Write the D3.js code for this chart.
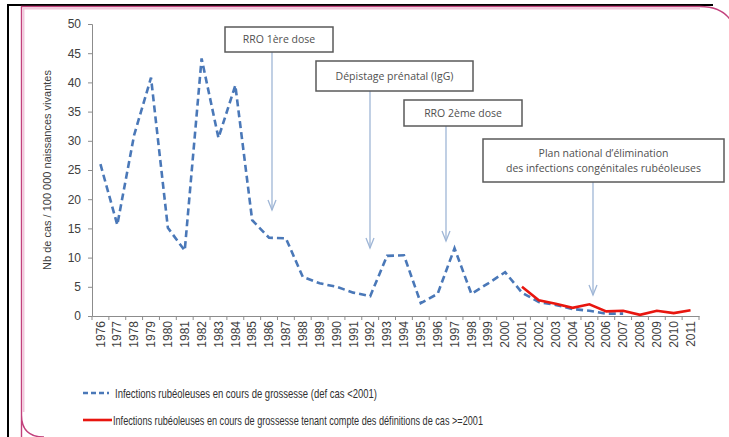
<!DOCTYPE html>
<html>
<head>
<meta charset="utf-8">
<script src="https://cdn.jsdelivr.net/npm/d3@7"></script>
<style>
  html, body { margin: 0; padding: 0; background: #fff; }
  svg { display: block; }
  .tick text { fill: #404040; }
</style>
</head>
<body>
<svg id="chart" width="729" height="437"></svg>
<script>
const years = d3.range(1976, 2012).map(String);

// def cas < 2001 (dashed)
const dashedYears = years.filter((y) => +y <= 2007);
const dashedValues = [26, 15.6, 31, 40.8, 15.1, 11.2, 44.1, 30.5, 39.5, 16.4, 13.4, 13.3, 6.7, 5.6, 5.0, 4.0,
  3.4, 10.3, 10.4, 2.2, 3.8, 11.6, 3.8, 5.6, 7.5, 4.0, 2.4, 1.9, 1.2, 0.9, 0.4, 0.4];

// définitions de cas >= 2001 (red)
const redYears = years.filter((y) => +y >= 2001);
const redValues = [5.0, 2.7, 2.1, 1.4, 2.0, 0.8, 0.9, 0.2, 0.9, 0.5, 1.0];

const yTicks = d3.range(0, 51, 5);

const annotations = [
  { lines: ['RRO 1ère dose'], box: [225, 27, 108, 25], arrowX: 272, tipY: 210 },
  { lines: ['Dépistage prénatal (IgG)'], box: [316, 61, 157, 30], arrowX: 370, tipY: 248 },
  { lines: ['RRO 2ème dose'], box: [404, 100, 118, 26], arrowX: 446, tipY: 241 },
  { lines: ['Plan national d\u2019élimination', 'des infections congénitales rubéoleuses'], box: [483, 139, 241, 43], arrowX: 593, tipY: 295 },
];

const legendItems = [
  { label: 'Infections rubéoleuses en cours de grossesse (def cas <2001)', color: '#4a78b8', dash: '5,3', y: 393, textLen: 262 },
  { label: 'Infections rubéoleuses en cours de grossesse tenant compte des définitions de cas >=2001', color: '#e8160f', dash: null, y: 420, textLen: 370 },
];

const svg = d3.select('#chart');

// frame
svg.append('path')
  .attr('d', 'M8,5 V437 M7,5 H713')
  .attr('stroke', '#000').attr('stroke-width', 2).attr('fill', 'none');
svg.append('path')
  .attr('d', 'M21.5,460 V415 Q21.5,437 44,437 M21.5,415 V6.5 H700 Q728,6.5 735,30')
  .attr('stroke', '#c2417c').attr('stroke-width', 1.4).attr('fill', 'none');
svg.append('path')
  .attr('d', 'M23.5,412 V8.5 H700')
  .attr('stroke', '#f2c8dc').attr('stroke-width', 2).attr('fill', 'none');

const x = d3.scaleBand().domain(years).range([92, 699]);
const cx = (year) => x(year) + x.bandwidth() / 2;
const y = d3.scaleLinear().domain([0, 50]).range([316, 24]);

// y axis
const yAxis = svg.append('g')
  .attr('transform', 'translate(92,0)')
  .call(d3.axisLeft(y).tickValues(yTicks).tickSize(4).tickPadding(7));
yAxis.selectAll('text').attr('font-family', 'Liberation Sans, Arial, sans-serif').attr('font-size', 12);
yAxis.select('.domain').attr('stroke', '#8c8c8c');
yAxis.selectAll('.tick line').attr('stroke', '#8c8c8c');

// x axis
const xAxis = svg.append('g')
  .attr('transform', 'translate(0,316)')
  .call(d3.axisBottom(x).tickSize(0).tickPadding(6));
xAxis.select('.domain').attr('stroke', '#8c8c8c');
xAxis.selectAll('text')
  .attr('font-family', 'Liberation Sans, Arial, sans-serif').attr('font-size', 12)
  .attr('transform', 'rotate(-90)')
  .attr('text-anchor', 'end')
  .attr('dy', '0.35em')
  .attr('x', -5).attr('y', 0);
xAxis.selectAll('.boundary')
  .data(years.map((yr) => x(yr)).concat([x.range()[1]]))
  .join('line')
  .attr('class', 'boundary')
  .attr('x1', (d) => d).attr('x2', (d) => d)
  .attr('y1', 0).attr('y2', 4)
  .attr('stroke', '#8c8c8c');

// y axis label
svg.append('text')
  .attr('transform', 'translate(51,170) rotate(-90)')
  .attr('text-anchor', 'middle')
  .attr('font-family', 'Liberation Sans, Arial, sans-serif')
  .attr('font-size', 11)
  .attr('fill', '#404040')
  .text('Nb de cas / 100 000 naissances vivantes');

// lines
const line = d3.line().x((d) => cx(d[0])).y((d) => y(d[1]));
svg.append('path')
  .datum(d3.zip(dashedYears, dashedValues))
  .attr('d', line)
  .attr('fill', 'none')
  .attr('stroke', '#4a78b8')
  .attr('stroke-width', 2.6)
  .attr('stroke-dasharray', '7,4');
svg.append('path')
  .datum(d3.zip(redYears, redValues))
  .attr('d', line)
  .attr('fill', 'none')
  .attr('stroke', '#e8160f')
  .attr('stroke-width', 2.6);

// annotations
const ann = svg.append('g').selectAll('g').data(annotations).join('g');
ann.append('line')
  .attr('x1', (d) => d.arrowX).attr('x2', (d) => d.arrowX)
  .attr('y1', (d) => d.box[1] + d.box[3]).attr('y2', (d) => d.tipY)
  .attr('stroke', '#9fb6d6').attr('stroke-width', 1.3);
ann.append('path')
  .attr('d', (d) => `M${d.arrowX - 4},${d.tipY - 10} L${d.arrowX},${d.tipY} L${d.arrowX + 4},${d.tipY - 10}`)
  .attr('fill', 'none').attr('stroke', '#9fb6d6').attr('stroke-width', 1.3);
ann.append('rect')
  .attr('x', (d) => d.box[0]).attr('y', (d) => d.box[1])
  .attr('width', (d) => d.box[2]).attr('height', (d) => d.box[3])
  .attr('fill', '#fff').attr('stroke', '#5a5a5a').attr('stroke-width', 1.5);
ann.each(function (d) {
  const g = d3.select(this);
  const n = d.lines.length;
  d.lines.forEach((txt, i) => {
    g.append('text')
      .attr('x', d.box[0] + d.box[2] / 2)
      .attr('y', d.box[1] + d.box[3] / 2 + (i - (n - 1) / 2) * 15)
      .attr('dy', '0.35em')
      .attr('text-anchor', 'middle')
      .attr('font-family', 'Open Sans, sans-serif')
      .attr('font-size', 10.5)
      .attr('fill', '#505050')
      .text(txt);
  });
});

// legend
const leg = svg.append('g').selectAll('g').data(legendItems).join('g');
leg.append('line')
  .attr('x1', 83).attr('x2', (d) => (d.dash ? 109 : 112))
  .attr('y1', (d) => d.y).attr('y2', (d) => d.y)
  .attr('stroke', (d) => d.color).attr('stroke-width', 2.6)
  .attr('stroke-dasharray', (d) => d.dash);
leg.append('text')
  .attr('x', (d) => (d.dash ? 115 : 113))
  .attr('y', (d) => d.y)
  .attr('dy', '0.35em')
  .attr('font-family', 'Liberation Sans, Arial, sans-serif')
  .attr('font-size', 13)
  .attr('fill', '#303030')
  .attr('textLength', (d) => d.textLen)
  .attr('lengthAdjust', 'spacingAndGlyphs')
  .text((d) => d.label);
</script>
</body>
</html>
